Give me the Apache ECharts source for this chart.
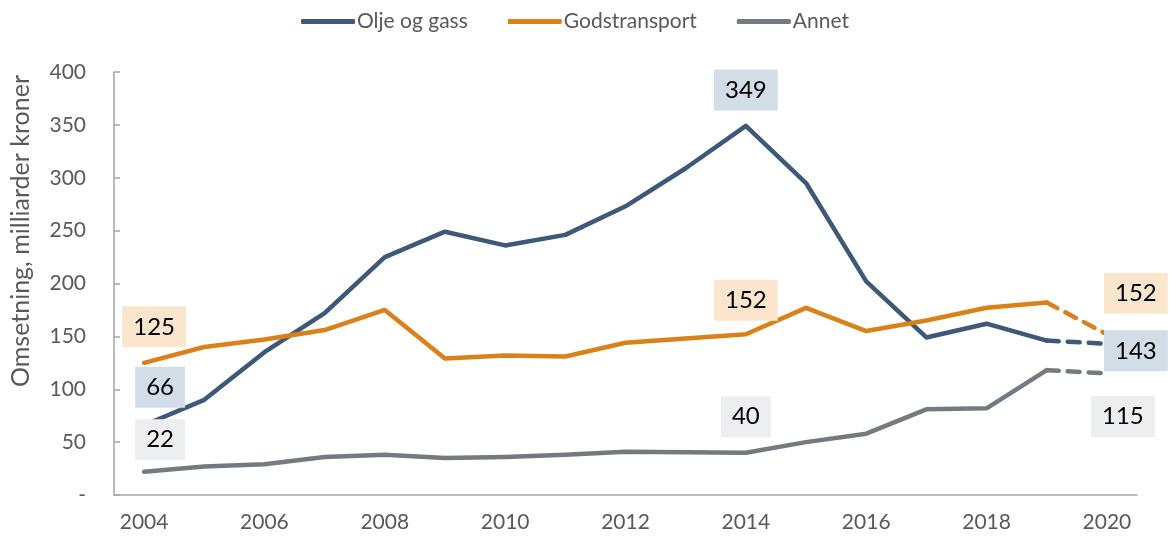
<!DOCTYPE html>
<html><head><meta charset="utf-8">
<script src="https://cdn.jsdelivr.net/npm/echarts@6/dist/echarts.min.js"></script>
<style>html,body{margin:0;padding:0;background:#fff}#c{width:1169px;height:540px}</style>
</head><body><div id="c"></div>
<script>
const years = ['2004','2005','2006','2007','2008','2009','2010','2011','2012','2013','2014','2015','2016','2017','2018','2019','2020'];
const oljeGass = [66, 90, 135, 172, 225, 249, 236, 246, 273, 309, 349, 295, 202, 149, 162, 146, 143];
const godstransport = [125, 140, 147, 156, 175, 129, 132, 131, 144, 148, 152, 177, 155, 165, 177, 182, 152];
const annet = [22, 27, 29, 36, 38, 35, 36, 38, 41, 40.5, 40, 50, 58, 81, 82, 118, 115];
const yTicks = [0, 50, 100, 150, 200, 250, 300, 350, 400];

const FONT = 'Lato, "Liberation Sans", sans-serif';
const C_BLUE = '#3D5878', C_ORANGE = '#DB8119', C_GRAY = '#737B81';
const BG_BLUE = '#D3DDE8', BG_ORANGE = '#FAE5CD', BG_GRAY = '#EDEEF0';

function lbl(bg, off) {
  return {show: true, position: 'inside', offset: off, backgroundColor: bg,
    color: '#000', fontSize: 24, lineHeight: 24, fontFamily: FONT, padding: [9, 11, 8, 11], formatter: p => p.value};
}
function solidData(vals, labels) {
  return vals.map((v, i) => {
    if (i === vals.length - 1) return null;
    const o = {value: v};
    if (labels[i]) o.label = labels[i];
    return o;
  });
}
function dashData(vals, lastLabel) {
  return vals.map((v, i) => {
    if (i < vals.length - 2) return null;
    const o = {value: v};
    if (i === vals.length - 1) o.label = lastLabel;
    return o;
  });
}
function solid(name, vals, color, labels) {
  return {name, type: 'line', data: solidData(vals, labels), symbol: 'circle', symbolSize: 0, showSymbol: true,
    lineStyle: {color, width: 4.5, cap: 'round', join: 'round'}, itemStyle: {color}, z: 3, silent: true};
}
function dashed(vals, color, lastLabel) {
  return {name: '_d', type: 'line', data: dashData(vals, lastLabel), symbol: 'circle', symbolSize: 0, showSymbol: true,
    lineStyle: {color, width: 4.5, type: [12, 9], cap: 'round'}, itemStyle: {color}, z: 3, silent: true};
}

const chart = echarts.init(document.getElementById('c'), null, {renderer: 'canvas'});
chart.setOption({
  animation: false,
  textStyle: {fontFamily: FONT},
  legend: {
    top: 6, left: 296, itemWidth: 54, itemHeight: 5, itemGap: 40, icon: 'roundRect',
    data: ['Olje og gass', 'Godstransport', 'Annet'],
    textStyle: {fontSize: 21, color: '#595959', fontFamily: FONT, padding: [0, 0, 0, -3]}
  },
  grid: {left: 114, right: 32, top: 72, bottom: 45},
  xAxis: {
    type: 'category', data: years, boundaryGap: true,
    axisLine: {lineStyle: {color: '#A6A6A6', width: 1.5}},
    axisTick: {inside: true, length: 6, interval: 0, lineStyle: {color: '#A6A6A6', width: 1.5}},
    axisLabel: {interval: 1, fontSize: 21, color: '#595959', margin: 17, fontFamily: FONT}
  },
  yAxis: {
    type: 'value', min: 0, max: 400, interval: 50,
    splitLine: {show: false},
    axisLine: {show: true, lineStyle: {color: '#A6A6A6', width: 1.5}},
    axisTick: {show: true, inside: true, length: 6, lineStyle: {color: '#A6A6A6', width: 1.5}},
    axisLabel: {fontSize: 21, color: '#595959', margin: 28, fontFamily: FONT,
      formatter: v => yTicks.indexOf(v) === 0 ? '-' : String(v)}
  },
  graphic: [{
    type: 'text', left: 8, top: 75, rotation: Math.PI / 2,
    style: {text: 'Omsetning, milliarder kroner', fontSize: 25, fill: '#595959', fontFamily: FONT}
  }],
  series: [
    solid('Olje og gass', oljeGass, C_BLUE, {0: lbl(BG_BLUE, [16, -38]), 10: lbl(BG_BLUE, [0, -36])}),
    solid('Godstransport', godstransport, C_ORANGE, {0: lbl(BG_ORANGE, [10, -36]), 10: lbl(BG_ORANGE, [0, -34])}),
    solid('Annet', annet, C_GRAY, {0: lbl(BG_GRAY, [16, -32]), 10: lbl(BG_GRAY, [0, -36])}),
    dashed(oljeGass, C_BLUE, lbl(BG_BLUE, [29, 7])),
    dashed(godstransport, C_ORANGE, lbl(BG_ORANGE, [29, -41])),
    dashed(annet, C_GRAY, lbl(BG_GRAY, [16, 43]))
  ]
});
</script></body></html>
